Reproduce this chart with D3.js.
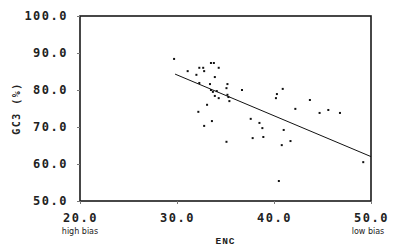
<!DOCTYPE html>
<html><head><meta charset="utf-8">
<script src="https://cdn.jsdelivr.net/npm/d3@7"></script>
<style>body{margin:0;background:#fff}svg{display:block}</style>
</head><body>
<svg id="c" width="400" height="252"></svg>
<script>
const encValues = [29.7,31.1,32.3,32.7,32.8,33.5,33.8,34.3,32.0,33.9,32.3,33.4,35.2,35.1,36.7,33.5,33.7,34.1,33.9,34.3,35.2,35.3,35.4,33.1,32.2,33.6,32.8,35.1,40.9,40.3,40.2,43.7,42.2,44.7,45.6,46.8,37.6,38.5,38.8,41.0,37.8,38.9,41.7,40.8,40.5,49.2];
const gc3Values = [88.4,85.1,86.0,86.0,85.1,87.3,87.3,86.0,84.1,83.5,81.9,81.6,81.6,80.5,80.0,80.0,79.5,79.7,78.4,77.8,78.7,78.1,77.0,76.0,74.1,71.6,70.3,66.0,80.3,78.9,77.8,77.3,74.9,73.8,74.6,73.8,72.2,71.1,69.7,69.2,67.0,67.3,66.2,65.1,55.4,60.5];
const fitLine = [[29.8,84.3],[50.0,62.0]];
const xTicks = [20,30,40,50];
const yTicks = [50,60,70,80,90,100];
const xNotes = [{v:20,t:"high bias"},{v:50,t:"low bias"}];
const xTitle = "ENC", yTitle = "GC3 (%)";

const svg = d3.select("#c");
const L=80,R=371,T=16,B=201;
const x = d3.scaleLinear().domain([20,50]).range([L,R]);
const y = d3.scaleLinear().domain([50,100]).range([B,T]);
const mono = "'DejaVu Sans Mono', monospace";

svg.append("rect").attr("x",L).attr("y",T).attr("width",R-L).attr("height",B-T)
  .attr("fill","none").attr("stroke","#1a1a1a").attr("stroke-width",1.6);

const ya = svg.append("g").attr("transform",`translate(${L},0)`)
  .call(d3.axisLeft(y).tickValues(yTicks).tickSize(3).tickPadding(8).tickFormat(d3.format(".1f")));
const xa = svg.append("g").attr("transform",`translate(0,${B})`)
  .call(d3.axisBottom(x).tickValues(xTicks).tickSize(3).tickPadding(9).tickFormat(d3.format(".1f")));
[ya,xa].forEach(a=>{
  a.select(".domain").remove();
  a.selectAll("line").attr("stroke","#777");
  a.selectAll("text").attr("fill","#222").style("font-family",mono).style("font-weight","bold")
   .style("font-size","12px").style("letter-spacing","1.5px");
});
ya.selectAll("text").attr("dx","-1");

xNotes.forEach(n=>{
  svg.append("text").attr("x",x(n.v)-(n.v===50?3:0)).attr("y",233.5).attr("text-anchor","middle")
    .style("font-family","'DejaVu Sans', sans-serif").style("font-size","8px").attr("fill","#222").text(n.t);
});
svg.append("text").attr("x",(L+R)/2).attr("y",244).attr("text-anchor","middle")
  .style("font-family","'Liberation Mono', monospace").style("font-weight","bold").style("font-size","9.5px")
  .style("letter-spacing","1px").attr("fill","#222").text(xTitle);
svg.append("text").attr("transform",`translate(20,${(T+B)/2}) rotate(-90)`).attr("text-anchor","middle")
  .style("font-family",mono).style("font-weight","bold").style("font-size","10px")
  .style("letter-spacing","1.5px").attr("fill","#222").text(yTitle);

svg.append("path").datum(fitLine).attr("fill","none").attr("stroke","#111").attr("stroke-width",1)
  .attr("d",d3.line().x(d=>x(d[0])).y(d=>y(d[1])));

svg.append("g").selectAll("rect").data(encValues.map((e,i)=>[e,gc3Values[i]])).join("rect")
  .attr("x",d=>x(d[0])-1).attr("y",d=>y(d[1])-1).attr("width",2).attr("height",2).attr("fill","#111");
</script>
</body></html>
